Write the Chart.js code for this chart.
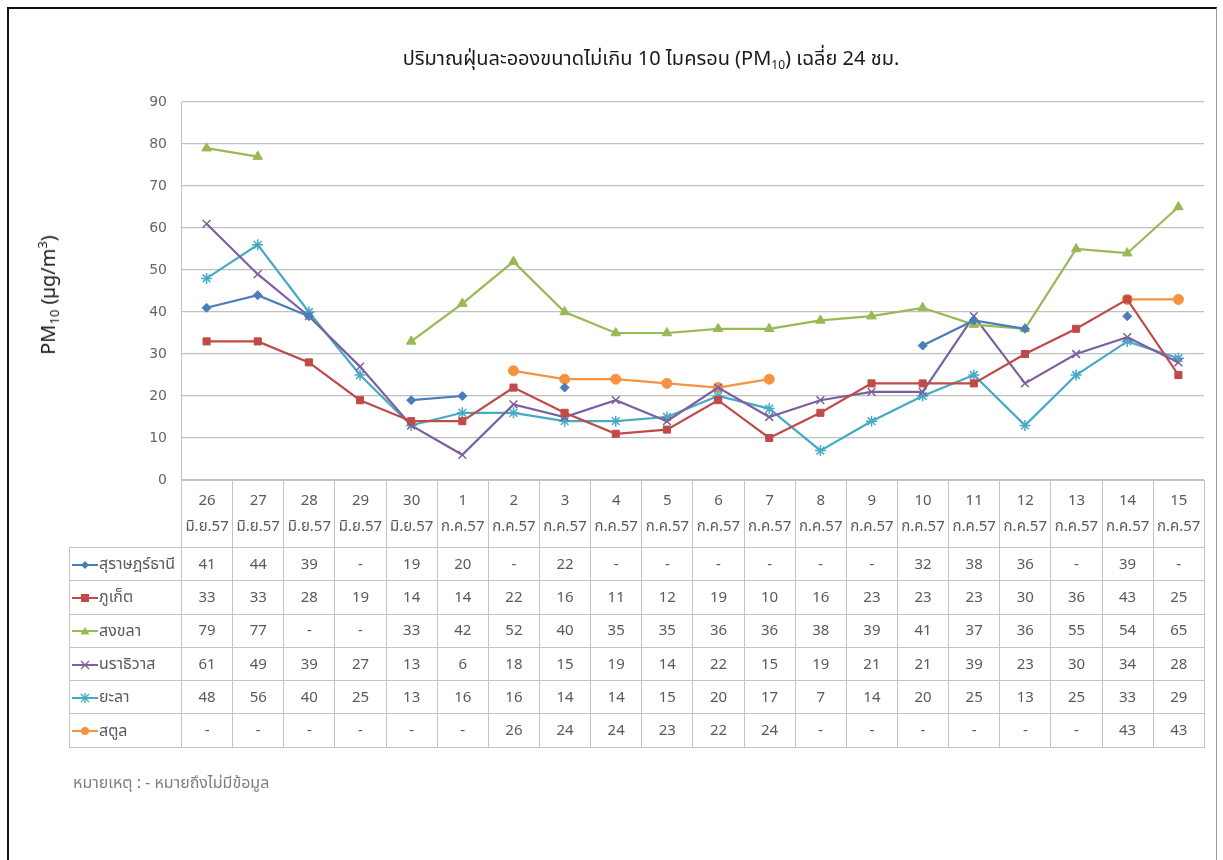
<!DOCTYPE html>
<html>
<head>
<meta charset="utf-8">
<script src="https://cdn.jsdelivr.net/npm/chart.js@4.4.1/dist/chart.umd.min.js"></script>
<style>
  html, body { margin: 0; padding: 0; background: #fff; }
  body { width: 1223px; height: 860px; position: relative; overflow: hidden;
         font-family: "Tahoma", "Noto Sans Thai", "Loma", "Garuda", "Sarabun", "DejaVu Sans", "Noto Sans", sans-serif; }
  #frame { position: absolute; left: 7px; top: 7px; width: 1210px; height: 870px;
           border-left: 2px solid #111; border-top: 2px solid #111; border-right: 1px solid #999;
           box-sizing: border-box; }
  #chartWrap { position: absolute; left: 0; top: 0; width: 1223px; height: 860px; }
  #title { position: absolute; top: 44px; left: 651px; transform: translateX(-50%);
           white-space: nowrap; font-size: 20px; color: #1a1a1a; }
  #title sub { font-size: 12px; vertical-align: -4px; line-height: 0; }
  #ylabel { position: absolute; left: 48px; top: 295px; transform: translate(-50%, -50%) rotate(-90deg);
            white-space: nowrap; font-size: 20px; color: #1a1a1a; }
  #ylabel sub { font-size: 13px; vertical-align: -4px; line-height: 0; }
  #ylabel sup { font-size: 13px; vertical-align: 8px; line-height: 0; }
  #tbl { position: absolute; border-collapse: collapse; table-layout: fixed; font-size: 15px; color: #5a5a5a; }
  #tbl td { border: 1px solid #c4c4c4; text-align: center; padding: 0; overflow: hidden; white-space: nowrap; }
  #tbl tr.hdr td { height: 66px; line-height: 26px; vertical-align: middle; }
  #tbl tr.hdr td.blank { border: none; border-right: 1px solid #c4c4c4; }
  #tbl tr.row td { height: 32.3px; }
  #tbl td.name { text-align: left; padding-left: 2px; font-size: 16px; }
  #tbl td.name svg { vertical-align: middle; margin-right: 1px; }
  #note { position: absolute; left: 73px; top: 771px; font-size: 16px; color: #7f7f7f; white-space: nowrap; }
</style>
</head>
<body>
<div id="frame"></div>
<div id="chartWrap"><canvas id="c" width="1223" height="860"></canvas></div>
<div id="title">ปริมาณฝุ่นละอองขนาดไม่เกิน 10 ไมครอน (PM<sub>10</sub>) เฉลี่ย 24 ชม.</div>
<div id="ylabel">PM<sub>10</sub> (µg/m<sup>3</sup>)</div>
<table id="tbl"></table>
<div id="note">หมายเหตุ : - หมายถึงไม่มีข้อมูล</div>
<script>
// ---- data ----
const days = ['26','27','28','29','30','1','2','3','4','5','6','7','8','9','10','11','12','13','14','15'];
const months = ['มิ.ย.57','มิ.ย.57','มิ.ย.57','มิ.ย.57','มิ.ย.57',
  'ก.ค.57','ก.ค.57','ก.ค.57','ก.ค.57','ก.ค.57','ก.ค.57','ก.ค.57','ก.ค.57','ก.ค.57','ก.ค.57',
  'ก.ค.57','ก.ค.57','ก.ค.57','ก.ค.57','ก.ค.57'];
const yTicks = [0,10,20,30,40,50,60,70,80,90];

const suratThani = [41,44,39,null,19,20,null,22,null,null,null,null,null,null,32,38,36,null,39,null];
const phuket     = [33,33,28,19,14,14,22,16,11,12,19,10,16,23,23,23,30,36,43,25];
const songkhla   = [79,77,null,null,33,42,52,40,35,35,36,36,38,39,41,37,36,55,54,65];
const narathiwat = [61,49,39,27,13,6,18,15,19,14,22,15,19,21,21,39,23,30,34,28];
const yala       = [48,56,40,25,13,16,16,14,14,15,20,17,7,14,20,25,13,25,33,29];
const satun      = [null,null,null,null,null,null,26,24,24,23,22,24,null,null,null,null,null,null,43,43];

const seriesNames = ['สุราษฎร์ธานี','ภูเก็ต','สงขลา','นราธิวาส','ยะลา','สตูล'];
const seriesData = [suratThani, phuket, songkhla, narathiwat, yala, satun];
const seriesColors = ['#4A7EBB','#BE4B48','#98B954','#7D60A0','#46AAC5','#F69240'];
const seriesMarkers = ['rectRot','rect','triangle','crossRot','star','circle'];
const markerRadius = [4.5, 5, 5.5, 5.5, 5.5, 5];

const datasets = seriesNames.map((n, i) => ({
  label: n,
  data: seriesData[i],
  borderColor: seriesColors[i],
  backgroundColor: seriesColors[i],
  pointBackgroundColor: seriesColors[i],
  pointBorderColor: seriesColors[i],
  pointStyle: seriesMarkers[i],
  pointRadius: markerRadius[i],
  pointBorderWidth: (i === 3 || i === 4) ? 1.5 : 1,
  borderWidth: 2.2,
  spanGaps: false,
  tension: 0
}));

const chart = new Chart(document.getElementById('c'), {
  type: 'line',
  data: { labels: days, datasets },
  options: {
    responsive: false,
    animation: false,
    layout: { padding: { left: 0, right: 19, top: 102, bottom: 380 } },
    plugins: { legend: { display: false }, title: { display: false }, tooltip: { enabled: false } },
    scales: {
      x: { type: 'category', offset: true, display: false },
      y: {
        min: 0, max: 90,
        afterFit(scale) { scale.width = 181; },
        afterBuildTicks(scale) { scale.ticks = yTicks.map(v => ({ value: v })); },
        grid: { color: '#c0c0c0', lineWidth: 1.2, drawTicks: false },
        border: { display: true, color: '#c0c0c0', width: 1 },
        ticks: { color: '#666666', padding: 14, font: { family: 'DejaVu Sans', size: 14 } }
      }
    }
  }
});

// ---- data table aligned with the category scale ----
const area = chart.chartArea;
const tbl = document.getElementById('tbl');
const leftCol = 112;
const colW = (area.right - area.left) / days.length;
tbl.style.left = (area.left - leftCol) + 'px';
tbl.style.top = area.bottom + 'px';
tbl.style.width = (leftCol + colW * days.length) + 'px';

let html = '<colgroup><col style="width:' + leftCol + 'px">';
for (let i = 0; i < days.length; i++) html += '<col style="width:' + colW + 'px">';
html += '</colgroup><tr class="hdr"><td class="blank"></td>';
for (let i = 0; i < days.length; i++) html += '<td>' + days[i] + '<br>' + months[i] + '</td>';
html += '</tr>';

function markerSvg(i) {
  const c = seriesColors[i];
  let m = '';
  const cx = 13, cy = 6;
  switch (seriesMarkers[i]) {
    case 'rectRot': m = `<polygon points="${cx},${cy-4} ${cx+4},${cy} ${cx},${cy+4} ${cx-4},${cy}" fill="${c}"/>`; break;
    case 'rect': m = `<rect x="${cx-4}" y="${cy-4}" width="8" height="8" fill="${c}"/>`; break;
    case 'triangle': m = `<polygon points="${cx},${cy-4} ${cx+4.5},${cy+3.5} ${cx-4.5},${cy+3.5}" fill="${c}"/>`; break;
    case 'crossRot': m = `<path d="M${cx-4} ${cy-4}L${cx+4} ${cy+4}M${cx+4} ${cy-4}L${cx-4} ${cy+4}" stroke="${c}" stroke-width="1.3"/>`; break;
    case 'star': m = `<path d="M${cx-4} ${cy-4}L${cx+4} ${cy+4}M${cx+4} ${cy-4}L${cx-4} ${cy+4}M${cx} ${cy-5}L${cx} ${cy+5}" stroke="${c}" stroke-width="1.3"/>`; break;
    case 'circle': m = `<circle cx="${cx}" cy="${cy}" r="4" fill="${c}"/>`; break;
  }
  return `<svg width="26" height="12" viewBox="0 0 26 12"><line x1="0" y1="6" x2="26" y2="6" stroke="${c}" stroke-width="2"/>${m}</svg>`;
}

for (let s = 0; s < seriesNames.length; s++) {
  html += '<tr class="row"><td class="name">' + markerSvg(s) + seriesNames[s] + '</td>';
  for (let i = 0; i < days.length; i++) {
    const v = seriesData[s][i];
    html += '<td>' + (v === null ? '-' : v) + '</td>';
  }
  html += '</tr>';
}
tbl.innerHTML = html;
</script>
</body>
</html>
